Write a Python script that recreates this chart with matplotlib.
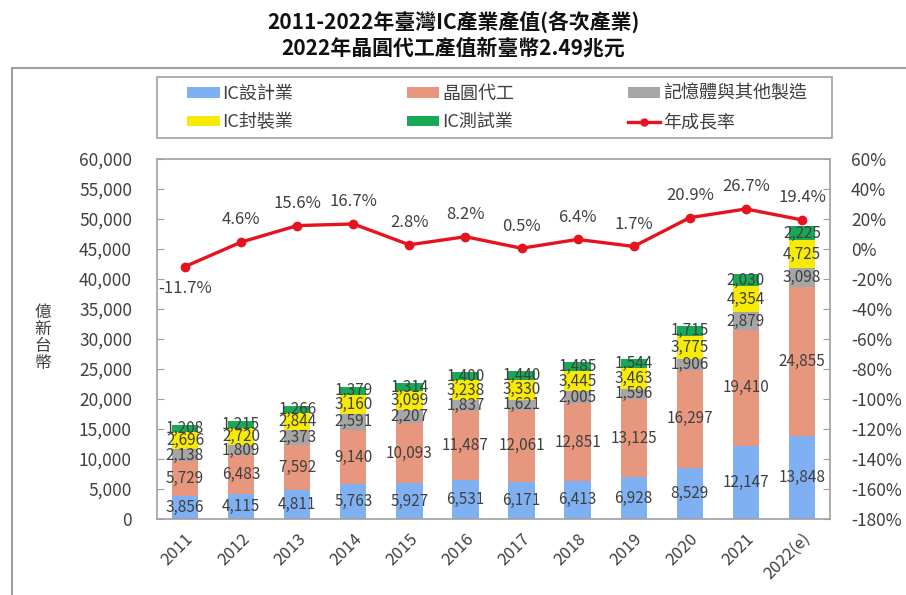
import matplotlib
matplotlib.use("Agg")
import matplotlib.pyplot as plt
from matplotlib.lines import Line2D
from matplotlib.patches import Patch, Rectangle

plt.rcParams["font.family"] = ["Noto Sans CJK TC", "DejaVu Sans"]

years = ["2011", "2012", "2013", "2014", "2015", "2016", "2017", "2018",
         "2019", "2020", "2021", "2022(e)"]
ic_design = [3856, 4115, 4811, 5763, 5927, 6531, 6171, 6413, 6928, 8529, 12147, 13848]
foundry = [5729, 6483, 7592, 9140, 10093, 11487, 12061, 12851, 13125, 16297, 19410, 24855]
memory = [2138, 1809, 2373, 2591, 2207, 1837, 1621, 2005, 1596, 1906, 2879, 3098]
packaging = [2696, 2720, 2844, 3160, 3099, 3238, 3330, 3445, 3463, 3775, 4354, 4725]
testing = [1208, 1215, 1266, 1379, 1314, 1400, 1440, 1485, 1544, 1715, 2030, 2225]
growth = [-11.7, 4.6, 15.6, 16.7, 2.8, 8.2, 0.5, 6.4, 1.7, 20.9, 26.7, 19.4]

series = [
    ("IC設計業", ic_design, "#7EB0F2"),
    ("晶圓代工", foundry, "#E8977F"),
    ("記憶體與其他製造", memory, "#A6A6A6"),
    ("IC封裝業", packaging, "#F7EA05"),
    ("IC測試業", testing, "#18A957"),
]
line_color = "#E8121E"
frame_color = "#A0A0A0"
text_color = "#404040"

W, H = 906, 595
fig = plt.figure(figsize=(W / 100, H / 100), dpi=100)
ax = fig.add_axes([157 / W, 1 - 519 / H, (830 - 157) / W, (519 - 159) / H])

x = list(range(len(years)))
bottom = [0] * len(years)
handles = {}
for name, vals, color in series:
    ax.bar(x, vals, width=0.47, bottom=bottom, color=color, zorder=2)
    handles[name] = Patch(facecolor=color)
    # value label in the middle of each segment
    for i, v in enumerate(vals):
        ax.text(i, bottom[i] + v / 2, f"{v:,}", ha="center", va="center",
                fontsize=11, color=text_color, zorder=4)
    bottom = [b + v for b, v in zip(bottom, vals)]

ax.set_xlim(-0.5, len(years) - 0.5)
ax.set_ylim(0, 60000)
ax.set_yticks(range(0, 60001, 5000))
ax.set_yticklabels([f"{v:,}" for v in range(0, 60001, 5000)])
ax.set_xticks(x)
ax.set_xticklabels(years, rotation=45, ha="right", rotation_mode="anchor")
ax.tick_params(axis="y", direction="in", length=5, color=frame_color,
               labelsize=12.5, labelcolor=text_color, pad=18)
ax.tick_params(axis="x", length=0, labelsize=12, labelcolor=text_color, pad=8)
for sp in ax.spines.values():
    sp.set_color(frame_color)
    sp.set_linewidth(1.2)

ax2 = ax.twinx()
ax2.plot(x, growth, color=line_color, lw=2.4, marker="o", ms=6, zorder=5)
ax2.set_ylim(-180, 60)
ax2.set_yticks(range(-180, 61, 20))
ax2.set_yticklabels([f"{v}%" for v in range(-180, 61, 20)])
ax2.tick_params(axis="y", direction="in", length=5, color=frame_color,
                labelsize=12.5, labelcolor=text_color, pad=15)
for sp in ax2.spines.values():
    sp.set_visible(False)
for i, g in enumerate(growth):
    dy = -16 if g < 0 else 16
    ax2.annotate(f"{g}%", (i, g), xytext=(0, dy), textcoords="offset points",
                 ha="center", va="center", fontsize=12, color=text_color)
handles["年成長率"] = Line2D([], [], color=line_color, lw=2.4, marker="o", ms=5)

fig.text(43 / W, 1 - 338 / H, "\n".join("億新台幣"), ha="center", va="center",
         fontsize=12, color=text_color, linespacing=1.0)

fig.text(0.5, 1 - 22 / H, "2011-2022年臺灣IC產業產值(各次產業)", ha="center",
         va="center", fontsize=15, fontweight="bold", color="#111111")
fig.text(0.5, 1 - 48 / H, "2022年晶圓代工產值新臺幣2.49兆元", ha="center",
         va="center", fontsize=15, fontweight="bold", color="#111111")

# legend without its own frame; the box is drawn separately
order = ["IC設計業", "IC封裝業", "晶圓代工", "IC測試業", "記憶體與其他製造", "年成長率"]
fig.legend([handles[k] for k in order], order, ncol=3, frameon=False,
           loc="center left", bbox_to_anchor=(178 / W, 1 - 108 / H),
           borderpad=0, fontsize=13, handlelength=1.8, handleheight=0.55,
           handletextpad=0.15, columnspacing=6.3, labelspacing=0.6,
           labelcolor=text_color)
fig.patches.append(Rectangle((157 / W, 1 - 138 / H), (832 - 157) / W, 61 / H,
                             transform=fig.transFigure, fill=False,
                             edgecolor=frame_color, lw=1.2))
fig.add_artist(Line2D([12 / W, 12 / W], [0, 1 - 68 / H], transform=fig.transFigure,
                      color=frame_color, lw=1.5))
fig.add_artist(Line2D([12 / W, 1], [1 - 68 / H, 1 - 68 / H], transform=fig.transFigure,
                      color=frame_color, lw=1.5))

fig.savefig("out.png", dpi=100)
